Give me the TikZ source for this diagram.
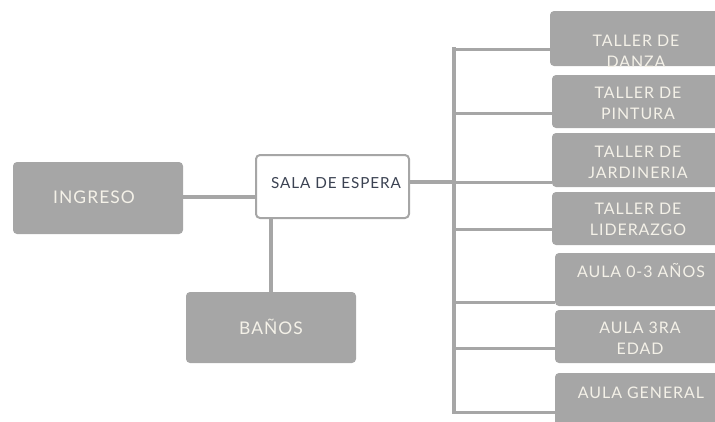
\documentclass[tikz,border=0pt]{standalone}
\usepackage{fontspec}
\setmainfont{Lato}[LetterSpace=6]
\definecolor{boxgray}{HTML}{A6A6A6}
\definecolor{linegray}{HTML}{A6A6A6}
\definecolor{lighttext}{HTML}{F4F1E8}
\definecolor{darktext}{HTML}{3B4252}
\begin{document}
\begin{tikzpicture}[x=1bp,y=-1bp,
  graybox/.style={fill=boxgray,draw=none,rounded corners=4bp},
  boxtext/.style={text=lighttext,font=\fontsize{16}{21}\selectfont,align=center,inner sep=0pt},
  bigtext/.style={text=lighttext,font=\fontsize{17.5}{21}\selectfont,align=center,inner sep=0pt},
  conn/.style={draw=linegray,line width=4bp}]
\useasboundingbox (0,0) rectangle (715,421);
% left part
\fill[graybox] (13,162) rectangle (183,234);
\node[bigtext,anchor=base] (ing) at (94,203) {INGRESO};
\coordinate (ingE) at (183,197);
\draw[draw=linegray,line width=2bp,fill=white,rounded corners=4bp] (256,155) rectangle (409,218);
\node[text=darktext,font=\fontsize{15.3}{21}\selectfont,anchor=base,inner sep=0pt] (sala) at (336,188) {SALA DE ESPERA};
\coordinate (salaW) at (255,197);
\coordinate (salaS) at (271,219);
\coordinate (salaE) at (410,182);
\fill[graybox] (186,292) rectangle (356,363);
\node[bigtext,anchor=base] (banos) at (271,334) {BAÑOS};
\coordinate (banosN) at (271,292);
\draw[conn] (ingE) -- (salaW);
\draw[conn] (salaS) -- (banosN);
% bar
\coordinate (bartop) at (454,47);
\coordinate (barbot) at (454,414);
\draw[conn] (salaE) -- (bartop |- salaE);
\draw[draw=linegray,line width=4bp] (bartop) -- (barbot);
% right boxes
\fill[graybox] (550,11) rectangle (725,66);
\fill[graybox] (552,75) rectangle (725,128);
\fill[graybox] (552,133) rectangle (725,187);
\fill[graybox] (552,192) rectangle (725,245);
\fill[graybox] (555,253) rectangle (728,306);
\fill[graybox] (555,310) rectangle (728,363);
\fill[graybox] (555,373) rectangle (728,430);
\node[boxtext,anchor=base] (t1) at (636,67) {TALLER DE\\DANZA};
\node[boxtext,anchor=base] (t2) at (638,119) {TALLER DE\\PINTURA};
\node[boxtext,anchor=base] (t3) at (638,178) {TALLER DE\\JARDINERIA};
\node[boxtext,anchor=base] (t4) at (638,235) {TALLER DE\\LIDERAZGO};
\node[boxtext,anchor=base] (t5) at (641,277) {AULA 0-3 AÑOS};
\node[boxtext,anchor=base] (t6) at (640,354) {AULA 3RA\\EDAD};
\node[boxtext,anchor=base] (t7) at (641,398) {AULA GENERAL};
\coordinate (c1) at (550,49);
\coordinate (c2) at (552,113);
\coordinate (c3) at (552,182);
\coordinate (c4) at (552,229);
\coordinate (c5) at (555,302);
\coordinate (c6) at (555,348);
\coordinate (c7) at (555,412);
\foreach \c in {c1,c2,c3,c4,c5,c6,c7}
  \draw[draw=linegray,line width=3bp] (bartop |- \c) -- (\c);
\end{tikzpicture}
\end{document}
